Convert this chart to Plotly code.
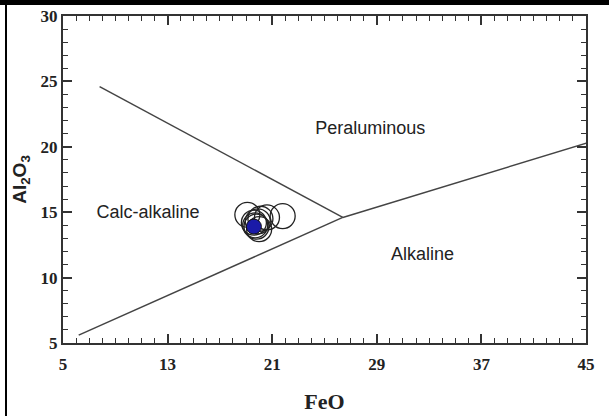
import plotly.graph_objects as go

# Discrimination boundary lines (FeO, Al2O3)
line_a_x = [7.8, 26.4]
line_a_y = [24.6, 14.6]
line_b_x = [6.2, 26.4]
line_b_y = [5.6, 14.6]
line_c_x = [26.4, 45.1]
line_c_y = [14.6, 20.3]

# Samples (open circles)
sample_feo = [19.1, 20.1, 20.6, 21.8, 19.6, 19.8, 20.0, 19.7, 19.9]
sample_al2o3 = [14.8, 14.5, 14.6, 14.7, 14.2, 13.9, 13.7, 14.0, 14.3]
# Filled sample
filled_feo = [19.6]
filled_al2o3 = [13.9]

# Region labels
region_names = ["Peraluminous", "Calc-alkaline", "Alkaline"]
region_x = [28.5, 11.5, 32.5]
region_y = [21.3, 14.9, 11.7]

x_ticks = [5, 13, 21, 29, 37, 45]
y_ticks = [5, 10, 15, 20, 25, 30]

fig = go.Figure()
for lx, ly in [(line_a_x, line_a_y), (line_b_x, line_b_y), (line_c_x, line_c_y)]:
    fig.add_trace(go.Scatter(x=lx, y=ly, mode="lines",
                             line=dict(color="#444444", width=1.5),
                             hoverinfo="skip", showlegend=False))

fig.add_trace(go.Scatter(x=sample_feo, y=sample_al2o3, mode="markers",
                         marker=dict(symbol="circle-open", size=25,
                                     color="#222222", line=dict(width=1.3)),
                         showlegend=False))
fig.add_trace(go.Scatter(x=filled_feo, y=filled_al2o3, mode="markers",
                         marker=dict(symbol="circle", size=15, color="#1a1aa8",
                                     line=dict(color="#111111", width=1)),
                         showlegend=False))

fig.add_trace(go.Scatter(x=region_x, y=region_y, mode="text", text=region_names,
                         textfont=dict(family="Liberation Sans", size=18, color="#222222"),
                         hoverinfo="skip", showlegend=False))

axis_common = dict(
    showgrid=False, zeroline=False, showline=True, linecolor="#333333", linewidth=2,
    mirror="ticks", ticks="inside", ticklen=9, tickwidth=1.5, tickcolor="#333333",
    tickfont=dict(family="Liberation Serif", size=17, color="#222222", weight="bold"),
    automargin=False,
)

fig.update_xaxes(range=[5, 45], tickvals=x_ticks, ticklabelstandoff=5,
                 minor=dict(dtick=1, ticks="inside", ticklen=5, tickwidth=1.2, tickcolor="#333333"),
                 title=dict(text="FeO", font=dict(family="Liberation Serif", size=22,
                                                  color="#222222", weight="bold"), standoff=20),
                 **axis_common)
fig.update_yaxes(range=[5, 30], tickvals=y_ticks,
                 minor=dict(dtick=1, ticks="inside", ticklen=5, tickwidth=1.2, tickcolor="#333333"),
                 title=dict(text="Al<sub>2</sub>O<sub>3</sub>",
                            font=dict(family="Liberation Sans", size=19,
                                      color="#222222", weight="bold"), standoff=9),
                 **axis_common)

W, H = 609, 416
L, R, T, B = 63, 23, 16, 73
pw, ph = W - L - R, H - T - B

def px(xp):
    return (xp - L) / pw

def py(yp):
    return (H - B - yp) / ph

shapes = [
    dict(type="rect", xref="paper", yref="paper", x0=px(0), x1=px(W), y0=py(0), y1=py(5),
         fillcolor="black", line=dict(width=0), layer="above"),
    dict(type="rect", xref="paper", yref="paper", x0=px(5), x1=px(7), y0=py(H), y1=py(0),
         fillcolor="black", line=dict(width=0), layer="above"),
]

fig.update_layout(width=W, height=H, margin=dict(l=L, r=R, t=T, b=B),
                  plot_bgcolor="white", paper_bgcolor="white", shapes=shapes)

fig.write_html("out.html", config={"displayModeBar": False},
               post_script="document.body.style.margin='0';document.body.style.overflow='hidden';")
